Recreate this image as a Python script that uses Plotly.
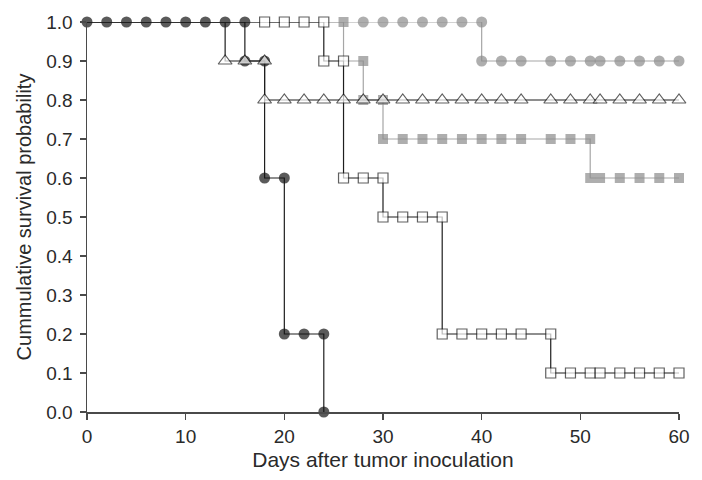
import plotly.graph_objects as go

# ---- data (days, cumulative survival) ----
black_x = [0, 2, 4, 6, 8, 10, 12, 14, 16, 16, 18, 18, 20, 20, 22, 24, 24]
black_y = [1.0, 1.0, 1.0, 1.0, 1.0, 1.0, 1.0, 1.0, 1.0, 0.9, 0.9, 0.6, 0.6, 0.2, 0.2, 0.2, 0.0]

tri_x = [0, 2, 4, 6, 8, 10, 12, 14, 14, 16, 18, 18, 20, 22, 24, 26, 28, 30, 32, 34, 36, 38, 40,
         42, 44, 47, 49, 51, 52, 54, 56, 58, 60]
tri_y = [1.0] * 8 + [0.9] * 3 + [0.8] * 22

wsq_x = [0, 2, 4, 6, 8, 10, 12, 14, 16, 18, 20, 22, 24, 24, 26, 26, 28, 30, 30, 32, 34, 36,
         36, 38, 40, 42, 44, 47, 47, 49, 51, 52, 54, 56, 58, 60]
wsq_y = [1.0] * 13 + [0.9] * 2 + [0.6] * 3 + [0.5] * 4 + [0.2] * 6 + [0.1] * 8

gsq_x = [0, 2, 4, 6, 8, 10, 12, 14, 16, 18, 20, 22, 24, 26, 26, 28, 28, 30, 30, 32, 34, 36, 38,
         40, 42, 44, 47, 49, 51, 51, 52, 54, 56, 58, 60]
gsq_y = [1.0] * 14 + [0.9] * 2 + [0.8] * 2 + [0.7] * 11 + [0.6] * 6

gci_x = [0, 2, 4, 6, 8, 10, 12, 14, 16, 18, 20, 22, 24, 26, 28, 30, 32, 34, 36, 38, 40,
         40, 42, 44, 47, 49, 51, 52, 54, 56, 58, 60]
gci_y = [1.0] * 21 + [0.9] * 11

x_ticks = [0, 10, 20, 30, 40, 50, 60]
y_ticks = [0.0, 0.1, 0.2, 0.3, 0.4, 0.5, 0.6, 0.7, 0.8, 0.9, 1.0]
y_tick_labels = ["0.0", "0.1", "0.2", "0.3", "0.4", "0.5", "0.6", "0.7", "0.8", "0.9", "1.0"]

GRAY_M = "#8c8c8c"
GRAY_L = "#a6a6a6"
DARK = "#1e1e1e"
AXIS = "#4a4a4a"
TEXT = "#2a2a2a"
FONT = "Liberation Sans, Arial, sans-serif"

# drawing order, bottom to top
series = [
    dict(x=gci_x, y=gci_y, sym="circle", size=11, fill=GRAY_M, edge=None, lc=GRAY_L),
    dict(x=gsq_x, y=gsq_y, sym="square", size=10, fill=GRAY_M, edge=None, lc=GRAY_L),
    dict(x=wsq_x, y=wsq_y, sym="square", size=10, fill="white", edge=DARK, lc=DARK),
    dict(x=black_x, y=black_y, sym="circle", size=11, fill="#141414", edge=None, lc=DARK),
    dict(x=tri_x, y=tri_y, sym="triangle-up", size=12, fill="white", edge=DARK, lc=DARK,
         top=True),
]

fig = go.Figure()
for i, s in enumerate(series):
    covered = set()
    for t in series[i + 1:]:
        if not t.get("top"):
            covered |= set(zip(t["x"], t["y"]))
    sizes = []
    for px, py in zip(s["x"], s["y"]):
        hide = (px, py) in covered or (s.get("top") and py >= 1.0)
        sizes.append(0 if hide else s["size"])
    mline = dict(width=0) if s["edge"] is None else dict(color=s["edge"], width=1.2)
    fig.add_trace(go.Scatter(
        x=s["x"], y=s["y"], mode="lines+markers",
        line=dict(color=s["lc"], width=1.2),
        marker=dict(symbol=s["sym"], size=sizes, color=s["fill"], line=mline),
        cliponaxis=False, showlegend=False, hoverinfo="skip"))

fig.update_layout(
    width=702, height=480,
    margin=dict(l=87, r=13, t=21, b=62),
    paper_bgcolor="white", plot_bgcolor="white",
    hovermode=False,
    font=dict(family=FONT, size=19, color=TEXT),
)
fig.update_xaxes(
    range=[0, 60], tickvals=x_ticks, ticks="outside", ticklen=6, tickwidth=1.2,
    tickcolor=AXIS, showline=True, linecolor=AXIS, linewidth=1.5,
    showgrid=False, zeroline=False, ticklabelstandoff=1, ticklabeloverflow="allow",
    title=dict(text="Days after tumor inoculation", standoff=6,
               font=dict(family=FONT, size=21, color=TEXT)),
)
fig.update_yaxes(
    range=[0, 1.0], tickvals=y_ticks, ticktext=y_tick_labels, ticks="outside", ticklen=6,
    tickwidth=1.2, tickcolor=AXIS, showline=True, linecolor=AXIS, linewidth=1.5,
    showgrid=False, zeroline=False, ticklabelstandoff=3,
    title=dict(text="Cummulative survival probability", standoff=9,
               font=dict(family=FONT, size=20, color=TEXT)),
)

fig.write_html("out.html", config={"displayModeBar": False, "staticPlot": True},
               post_script="document.body.style.margin='0';document.body.style.overflow='hidden';")
